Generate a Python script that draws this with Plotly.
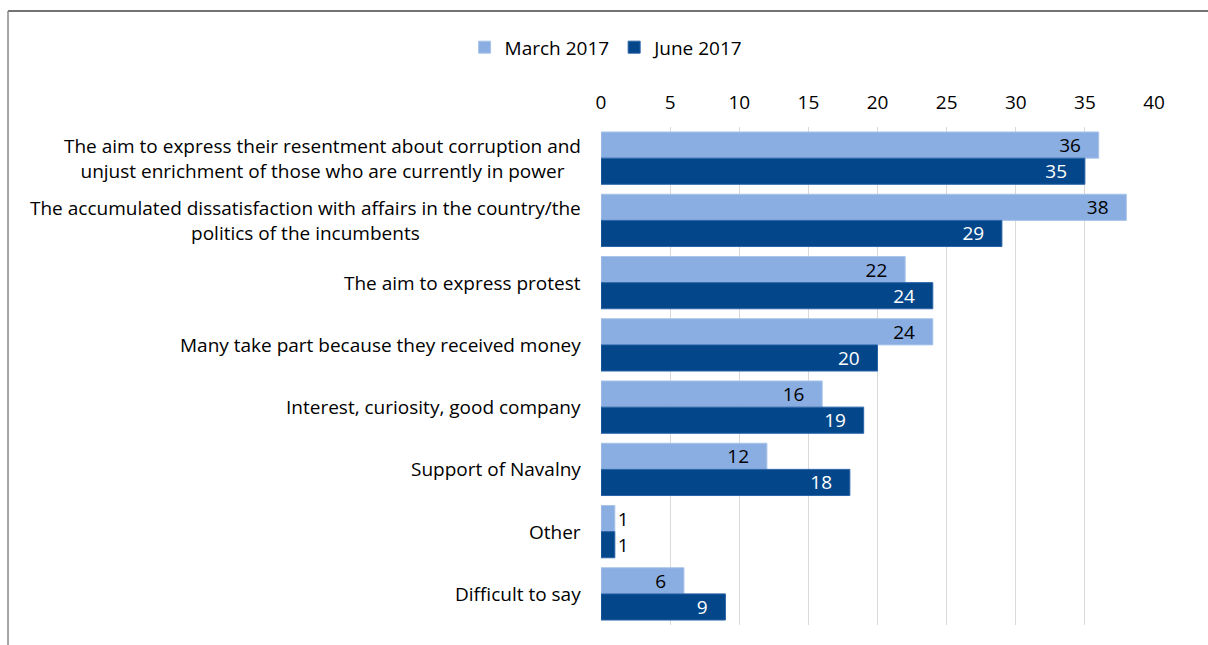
import plotly.graph_objects as go

categories = [
    "The aim to express their resentment about corruption and<br>unjust enrichment of those who are currently in power",
    "The accumulated dissatisfaction with affairs in the country/the<br>politics of the incumbents",
    "The aim to express protest",
    "Many take part because they received money",
    "Interest, curiosity, good company",
    "Support of Navalny",
    "Other",
    "Difficult to say",
]
march_2017 = [36, 38, 22, 24, 16, 12, 1, 6]
june_2017 = [35, 29, 24, 20, 19, 18, 1, 9]
series_names = ["March 2017", "June 2017"]
x_ticks = [0, 5, 10, 15, 20, 25, 30, 35, 40]

FONT = "Open Sans"
LIGHT = "#8AAEE1"
DARK = "#03478A"
PAD = "\u00a0\u00a0\u00a0"


def labels(vals):
    return [f"{v}{PAD}" if v >= 3 else f"{v}" for v in vals]


def positions(vals):
    return ["inside" if v >= 3 else "outside" for v in vals]


fig = go.Figure()
fig.add_trace(go.Bar(
    y=categories, x=march_2017, name=series_names[0], orientation="h",
    marker=dict(color=LIGHT, line=dict(color="#A9C4EA", width=1)),
    text=labels(march_2017), textposition=positions(march_2017), insidetextanchor="end",
    insidetextfont=dict(color="#000000", size=19, family=FONT),
    outsidetextfont=dict(color="#000000", size=19, family=FONT),
    textangle=0, cliponaxis=False, constraintext="none",
))
fig.add_trace(go.Bar(
    y=categories, x=june_2017, name=series_names[1], orientation="h",
    marker=dict(color=DARK, line=dict(color="#2A64A8", width=1)),
    text=labels(june_2017), textposition=positions(june_2017), insidetextanchor="end",
    insidetextfont=dict(color="#FFFFFF", size=19, family=FONT),
    outsidetextfont=dict(color="#000000", size=19, family=FONT),
    textangle=0, cliponaxis=False, constraintext="none",
))

annotations = []
for c in categories:
    annotations.append(dict(
        x=0, xref="paper", y=c, yref="y", xanchor="right", yanchor="middle",
        xshift=-18, text=c, showarrow=False, align="center",
        font=dict(family=FONT, size=19, color="#000000"),
    ))

fig.update_layout(
    width=1208, height=645,
    margin=dict(l=601, r=54, t=127, b=20),
    paper_bgcolor="white", plot_bgcolor="white",
    barmode="group", bargap=0.16, bargroupgap=0,
    font=dict(family=FONT, size=19, color="#000000"),
    showlegend=True,
    legend=dict(orientation="h", x=0.011, xanchor="center", y=1.16, yanchor="middle",
                font=dict(family=FONT, size=19), traceorder="normal",
                itemwidth=30, bgcolor="rgba(0,0,0,0)"),
    xaxis=dict(range=[0, 40], tickvals=x_ticks, side="top", showgrid=True,
               gridcolor="#D9D9D9", gridwidth=1, zeroline=False, showline=False,
               tickfont=dict(family=FONT, size=19), ticks="", ticklabelstandoff=13,
               fixedrange=True),
    yaxis=dict(autorange="reversed", showticklabels=False, showgrid=False,
               zeroline=False, showline=False, ticks="", fixedrange=True),
    annotations=annotations,
    shapes=[
        dict(type="line", xref="paper", yref="paper", x0=-1.0723, x1=1.2, y0=1.2329, y1=1.2329,
             line=dict(color="#444444", width=1.5)),
        dict(type="line", xref="paper", yref="paper", x0=-1.0723, x1=-1.0723, y0=1.2329, y1=-0.1,
             line=dict(color="#888888", width=1.5)),
    ],
)

fig.write_html("out.html", config={"displayModeBar": False},
               post_script="document.body.style.margin='0';document.body.style.overflow='hidden';")
